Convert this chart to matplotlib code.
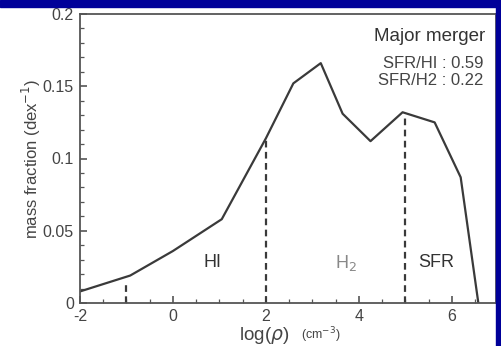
import matplotlib
matplotlib.use("Agg")
import matplotlib.pyplot as plt
from matplotlib.patches import Rectangle
from matplotlib.ticker import MultipleLocator

plt.rcParams['font.family'] = ['Liberation Sans', 'DejaVu Sans']
plt.rcParams['axes.unicode_minus'] = False

# mass fraction vs log density
log_rho = [-2.0, -0.92, 0.0, 1.05, 2.0, 2.59, 3.18, 3.65, 4.25, 4.94, 5.63, 6.19, 6.57]
mass_frac = [0.008, 0.019, 0.036, 0.058, 0.114, 0.152, 0.166, 0.131, 0.112, 0.132, 0.125, 0.087, 0.0]

# phase boundaries (dashed) and their heights
bound_x = [-1.0, 2.0, 5.0]
bound_top = [0.014, 0.113, 0.130]

# region labels
region_names = ["HI", "H$_2$", "SFR"]
region_x = [0.86, 3.73, 5.66]
region_colors = ["#333333", "#888888", "#333333"]

ratio_lines = ["SFR/HI : 0.59", "SFR/H2 : 0.22"]

fig = plt.figure(figsize=(5.01, 3.46), dpi=100)
ax = fig.add_axes([80 / 501, 43 / 346, 416 / 501, 289 / 346])

ax.plot(log_rho, mass_frac, color="#3a3a3a", lw=1.6)
for bx, bt in zip(bound_x, bound_top):
    ax.plot([bx, bx], [0, bt], color="#3a3a3a", lw=1.6, ls=(0, (3, 2)))

for name, rx, c in zip(region_names, region_x, region_colors):
    ax.text(rx, 0.028, name, ha="center", va="center", fontsize=13, color=c)

ax.text(0.975, 0.95, "Major merger", transform=ax.transAxes, ha="right", va="top",
        fontsize=13.5, color="#333333")
ax.text(0.97, 0.855, "\n".join(ratio_lines), transform=ax.transAxes, ha="right", va="top",
        fontsize=12, color="#444444", linespacing=1.2)

ax.set_xlim(-2, 6.95)
ax.set_ylim(0, 0.2)
ax.xaxis.set_major_locator(MultipleLocator(2))
ax.xaxis.set_minor_locator(MultipleLocator(0.5))
ax.yaxis.set_major_locator(MultipleLocator(0.05))
ax.yaxis.set_minor_locator(MultipleLocator(0.01))
ax.set_yticks([0, 0.05, 0.1, 0.15, 0.2])
ax.set_yticklabels(["0", "0.05", "0.1", "0.15", "0.2"])
ax.tick_params(which="both", direction="in", colors="#555555", labelcolor="#444444",
               labelsize=11.5, top=False, right=False, pad=4.5)
ax.tick_params(which="major", length=5, width=1.2)
ax.tick_params(which="minor", length=3, width=0.9)
for s in ax.spines.values():
    s.set_color("#555555")
    s.set_linewidth(1.3)

ax.set_ylabel("mass fraction (dex$^{-1}$)", fontsize=12, color="#444444", labelpad=0)

fig.text(264 / 501, 1 - 335 / 346, r"log($\rho$)", ha="center", va="center",
         fontsize=13.5, color="#444444")
fig.text(321 / 501, 1 - 335 / 346, "(cm$^{-3}$)", ha="center", va="center",
         fontsize=9, color="#444444")

# slide frame (blue strips at top and right)
fig.patches.append(Rectangle((0, 1 - 7 / 346), 1, 7 / 346, transform=fig.transFigure,
                             color="#000099", zorder=10))
fig.patches.append(Rectangle((496 / 501, 0), 5 / 501, 1, transform=fig.transFigure,
                             color="#000099", zorder=10))

fig.savefig("out.png", dpi=100)
